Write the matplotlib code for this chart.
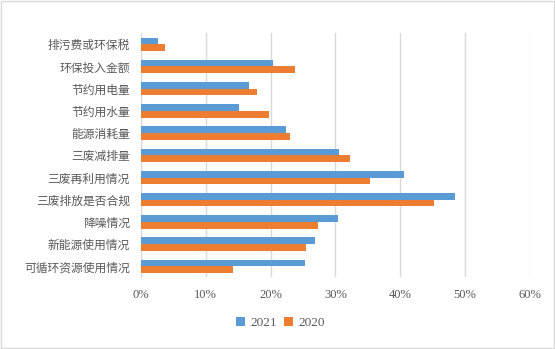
import numpy as np
import matplotlib.pyplot as plt
from matplotlib.patches import Rectangle

# donnees (de haut en bas)
categories = ['排污费或环保税', '环保投入金额', '节约用电量', '节约用水量', '能源消耗量',
              '三废减排量', '三废再利用情况', '三废排放是否合规', '降噪情况',
              '新能源使用情况', '可循环资源使用情况']
v2021 = [2.6, 20.4, 16.7, 15.1, 22.4, 30.6, 40.6, 48.5, 30.4, 26.9, 25.3]
v2020 = [3.7, 23.8, 17.9, 19.8, 23.0, 32.3, 35.3, 45.2, 27.3, 25.5, 14.2]
xticks = [0, 10, 20, 30, 40, 50, 60]

plt.rcParams['font.family'] = ['Noto Sans CJK SC', 'DejaVu Sans']

fig = plt.figure(figsize=(5.55, 3.49), dpi=100)
ax = fig.add_axes([0.254, 0.205, 0.701, 0.70])

y = np.arange(len(categories))
h = 0.3
ax.barh(y - h / 2, v2021, height=h, color='#5B9BD5', label='2021', zorder=3)
ax.barh(y + h / 2, v2020, height=h, color='#ED7D31', label='2020', zorder=3)

ax.set_ylim(len(categories) - 0.5, -0.5)
ax.set_xlim(0, 60)
ax.set_yticks(y)
ax.set_yticklabels(categories, fontsize=8.5, color='#595959')
ax.set_xticks(xticks)
ax.set_xticklabels([f'{t}%' for t in xticks], fontsize=9, color='#595959',
                   family='Liberation Serif')
ax.tick_params(length=0)
ax.tick_params(axis='y', pad=8)
ax.tick_params(axis='x', pad=8)
ax.grid(axis='x', color='#D9D9D9', linewidth=1, zorder=0)
for s in ['top', 'right', 'bottom']:
    ax.spines[s].set_visible(False)
ax.spines['left'].set_color('#D9D9D9')

leg = fig.legend(loc='center', bbox_to_anchor=(0.505, 0.075), ncol=2, frameon=False,
                 prop={'family': 'Liberation Serif', 'size': 9.5},
                 handlelength=0.7, handleheight=0.7, handletextpad=0.4, columnspacing=0.5)
for t in leg.get_texts():
    t.set_color('#595959')

fig.patches.append(Rectangle((0.002, 0.002), 0.996, 0.996, transform=fig.transFigure,
                             fill=False, edgecolor='#D9D9D9', linewidth=1))

fig.savefig('out.png', dpi=100)
